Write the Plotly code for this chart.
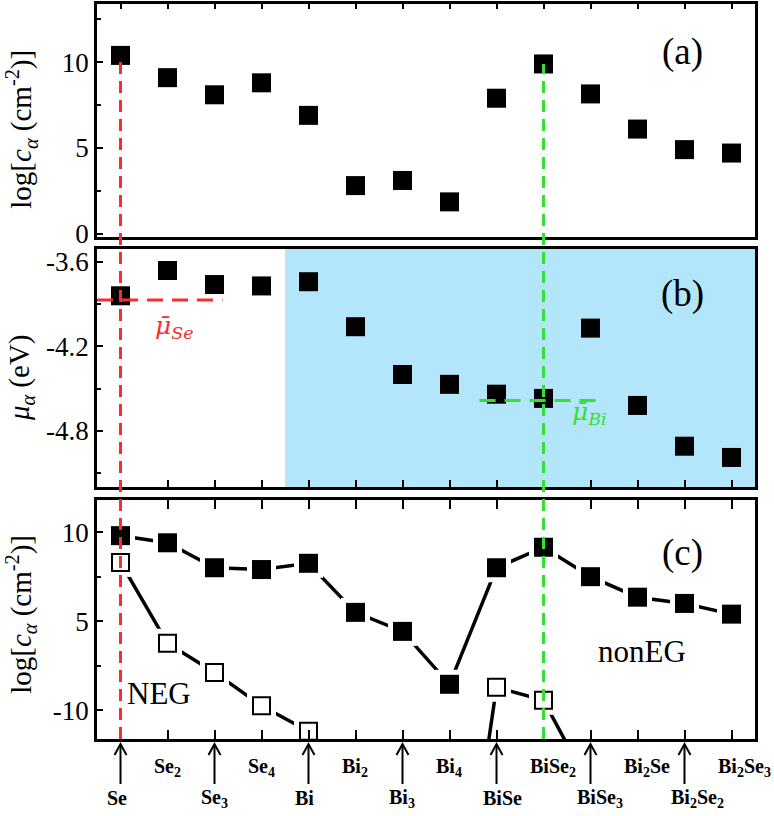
import plotly.graph_objects as go

# ---------------- data ----------------
species = ["Se", "Se2", "Se3", "Se4", "Bi", "Bi2", "Bi3", "Bi4",
           "BiSe", "BiSe2", "BiSe3", "Bi2Se", "Bi2Se2", "Bi2Se3"]
tick_labels = ["Se", "Se<sub>2</sub>", "Se<sub>3</sub>", "Se<sub>4</sub>", "Bi",
               "Bi<sub>2</sub>", "Bi<sub>3</sub>", "Bi<sub>4</sub>", "BiSe",
               "BiSe<sub>2</sub>", "BiSe<sub>3</sub>", "Bi<sub>2</sub>Se",
               "Bi<sub>2</sub>Se<sub>2</sub>", "Bi<sub>2</sub>Se<sub>3</sub>"]
# panel (a): log concentration
conc_a = [10.4, 9.1, 8.1, 8.8, 6.9, 2.8, 3.1, 1.85, 7.9, 9.9, 8.15, 6.1, 4.9, 4.7]
# panel (b): chemical potential (eV)
mu_b = [-3.84, -3.66, -3.76, -3.77, -3.74, -4.06, -4.40, -4.47,
        -4.54, -4.57, -4.07, -4.62, -4.91, -4.99]
mu_se_mean = -3.87
mu_bi_mean = -4.585
# panel (c): log concentration, nonEG (filled) and NEG (open)
conc_noneg = [9.8, 9.4, 8.0, 7.9, 8.25, 5.5, 3.3, -5.6, 8.0, 9.15, 7.5, 6.35, 6.0, 5.4]
conc_neg = [8.3, 1.3, -3.6, -9.2, -13.5, None, None, -60, -6.1, -8.3, -23, None, None, None]
c_ticks = [-10, 5, 10]
c_minor = [-2.5, 7.5]

# ---------------- style ----------------
RED = "#FF2B2B"
GREEN = "#33E033"
BLUE = "#B3E5FB"
SERIF = "Liberation Serif"
MATH = "DejaVu Serif"
W, H = 774, 816
ML, MR, MT, MB = 97, 19, 4, 77
PW, PH = W - ML - MR, H - MT - MB
dom_a = [0.683, 1.0]
dom_b = [0.3429, 0.6667]
dom_c = [0.0, 0.3252]
ra = [-0.2, 13.4]
rb = [-5.2, -3.507]
xr = [-0.5, 13.5]


def brk(v):
    """broken axis of panel (c): compressed below 5"""
    if v is None:
        return None
    return v if v >= 5 else 5 + (v - 5) / 3.0


rc = [brk(-14.8), 11.8]
x = list(range(len(species)))

fig = go.Figure()

# panel (a)
fig.add_trace(go.Scatter(x=x, y=conc_a, mode="markers", xaxis="x", yaxis="y",
                         marker=dict(symbol="square", size=19, color="black"),
                         hoverinfo="skip", showlegend=False))
# panel (b)
fig.add_trace(go.Scatter(x=x, y=mu_b, mode="markers", xaxis="x2", yaxis="y2",
                         marker=dict(symbol="square", size=19, color="black"),
                         hoverinfo="skip", showlegend=False))
# panel (c) lines
yc_f = [brk(v) for v in conc_noneg]
yc_o = [brk(v) for v in conc_neg]
for ys in (yc_f, yc_o):
    fig.add_trace(go.Scatter(x=x, y=ys, mode="lines", xaxis="x3", yaxis="y3",
                             line=dict(color="black", width=3.5),
                             hoverinfo="skip", showlegend=False))
# white gaps around markers
for ys in (yc_f, yc_o):
    fig.add_trace(go.Scatter(x=x, y=ys, mode="markers", xaxis="x3", yaxis="y3",
                             marker=dict(symbol="square", size=29, color="white"),
                             hoverinfo="skip", showlegend=False))
fig.add_trace(go.Scatter(x=x, y=yc_f, mode="markers", xaxis="x3", yaxis="y3",
                         marker=dict(symbol="square", size=19, color="black"),
                         hoverinfo="skip", showlegend=False))
fig.add_trace(go.Scatter(x=x, y=yc_o, mode="markers", xaxis="x3", yaxis="y3",
                         marker=dict(symbol="square", size=17, color="white",
                                     line=dict(color="black", width=2)),
                         hoverinfo="skip", showlegend=False))

axis_common = dict(showline=True, linecolor="black", linewidth=2.5,
                   showgrid=False, zeroline=False, ticks="inside",
                   tickcolor="black", tickwidth=2,
                   tickfont=dict(family=SERIF, size=27, color="black"))
xcommon = dict(axis_common, range=xr, tickmode="array", tickvals=x,
               showticklabels=False, ticklen=7)
minor_common = dict(tickmode="array", ticklen=4, ticks="inside",
                    tickcolor="black", tickwidth=2)

fig.update_layout(
    width=W, height=H, margin=dict(l=ML, r=MR, t=MT, b=MB),
    paper_bgcolor="white", plot_bgcolor="white",
    xaxis=dict(xcommon, anchor="y", domain=[0, 1], side="top", mirror=True, ticklen=5),
    xaxis2=dict(xcommon, anchor="y2", domain=[0, 1], side="bottom", mirror=True),
    xaxis3=dict(xcommon, anchor="y3", domain=[0, 1], mirror="ticks", ticklen=9),
    yaxis=dict(axis_common, anchor="x", domain=dom_a, range=ra, mirror=True,
               tickmode="array", tickvals=[0, 5, 10], ticklen=6,
               minor=dict(minor_common, tickvals=[2.5, 7.5, 12.5])),
    yaxis2=dict(axis_common, anchor="x2", domain=dom_b, range=rb, mirror=True,
                tickmode="array", tickvals=[-4.8, -4.2, -3.6],
                ticktext=["-4.8", "-4.2", "-3.6"], ticklen=6,
                minor=dict(minor_common, tickvals=[-5.1, -4.5, -3.9])),
    yaxis3=dict(axis_common, anchor="x3", domain=dom_c, range=rc, mirror=True,
                tickmode="array", tickvals=[brk(v) for v in c_ticks],
                ticktext=[str(v) for v in c_ticks], ticklen=6,
                minor=dict(minor_common, tickvals=[brk(v) for v in c_minor])),
)

shapes = []
# shaded region in (b)
shapes.append(dict(type="rect", xref="x2", yref="y2 domain", x0=3.5, x1=xr[1], y0=0, y1=1,
                   fillcolor=BLUE, line=dict(width=0), layer="below"))


def paper_y_a(v):
    return dom_a[0] + (v - ra[0]) / (ra[1] - ra[0]) * (dom_a[1] - dom_a[0])


# vertical dashed guide lines through Se and BiSe2
for idx, col in ((0, RED), (9, GREEN)):
    shapes.append(dict(type="line", xref="x3", yref="paper", x0=idx, x1=idx,
                       y0=0, y1=paper_y_a(conc_a[idx]),
                       line=dict(color=col, width=3, dash="12px,7px")))
# mean potentials
shapes.append(dict(type="line", xref="x2", yref="y2", x0=xr[0], x1=2.17,
                   y0=mu_se_mean, y1=mu_se_mean,
                   line=dict(color=RED, width=3, dash="16px,9px")))
shapes.append(dict(type="line", xref="x2", yref="y2", x0=7.64, x1=10.3,
                   y0=mu_bi_mean, y1=mu_bi_mean,
                   line=dict(color=GREEN, width=3, dash="16px,9px")))

# up-arrows under every second category (drawn as shapes)
px_x = (xr[1] - xr[0]) / PW       # x data units per pixel
px_y = 1.0 / PH                    # paper units per pixel
y_tip = -5 * px_y
y_tail = -45 * px_y
for i in x[::2]:
    shapes.append(dict(type="line", xref="x3", yref="paper", x0=i, x1=i,
                       y0=y_tip - 1 * px_y, y1=y_tail,
                       line=dict(color="black", width=2)))
    shapes.append(dict(type="path", xref="x3", yref="paper",
                       path="M {a},{b} L {c},{d} L {e},{b}".format(
                           a=i - 6 * px_x, b=y_tip - 11 * px_y, c=i, d=y_tip,
                           e=i + 6 * px_x),
                       line=dict(color="black", width=2)))
fig.update_layout(shapes=shapes)

ann = []
ytitle_c = "log[<i>c</i><sub><i>α</i></sub> (cm<sup>-2</sup>)]"
for ytxt, yy in ((ytitle_c, 0.829), ("<i>μ</i><sub><i>α</i></sub> (eV)", 0.491),
                 (ytitle_c, 0.169)):
    ann.append(dict(text=ytxt, xref="paper", yref="paper", x=(21 - ML) / PW,
                    y=yy, textangle=-90, showarrow=False, xanchor="center", yanchor="middle",
                    font=dict(family=SERIF, size=29, color="black")))
# panel labels
for lab, xrf, yrf, xx, yy in (("(a)", "x domain", "y domain", 0.89, 0.794),
                              ("(b)", "x2 domain", "y2 domain", 0.89, 0.811),
                              ("(c)", "x3 domain", "y3 domain", 0.89, 0.778)):
    ann.append(dict(text=lab, xref=xrf, yref=yrf, x=xx, y=yy, showarrow=False,
                    xanchor="center", yanchor="middle",
                    font=dict(family=SERIF, size=37, color="black")))
ann.append(dict(text="NEG", xref="x3 domain", yref="y3 domain", x=0.094, y=0.192,
                showarrow=False, xanchor="center", yanchor="middle",
                font=dict(family=SERIF, size=31, color="black")))
ann.append(dict(text="nonEG", xref="x3 domain", yref="y3 domain", x=0.828, y=0.364,
                showarrow=False, xanchor="center", yanchor="middle",
                font=dict(family=SERIF, size=31, color="black")))
ann.append(dict(text="<i>μ\u0304</i><sub><i>Se</i></sub>", xref="x2 domain", yref="y2 domain",
                x=0.1185, y=0.672, showarrow=False, xanchor="center", yanchor="middle",
                font=dict(family=MATH, size=25, color=RED)))
ann.append(dict(text="<i>μ\u0304</i><sub><i>Bi</i></sub>", xref="x2 domain", yref="y2 domain",
                x=0.748, y=0.311, showarrow=False, xanchor="center", yanchor="middle",
                font=dict(family=MATH, size=25, color=GREEN)))

# category labels below panel (c): alternating rows
y_up = -28 * px_y
y_low = -59 * px_y
for i, lab in enumerate(tick_labels):
    lower = (i % 2 == 0)
    ann.append(dict(text="<b>" + lab + "</b>", xref="x3", yref="paper", x=i,
                    y=y_low if lower else y_up, xanchor="left", yanchor="middle",
                    xshift=-16, showarrow=False,
                    font=dict(family=SERIF, size=20, color="black")))
fig.update_layout(annotations=ann)

fig.write_html("out.html", config={"displayModeBar": False},
               post_script="document.body.style.margin='0px';")
